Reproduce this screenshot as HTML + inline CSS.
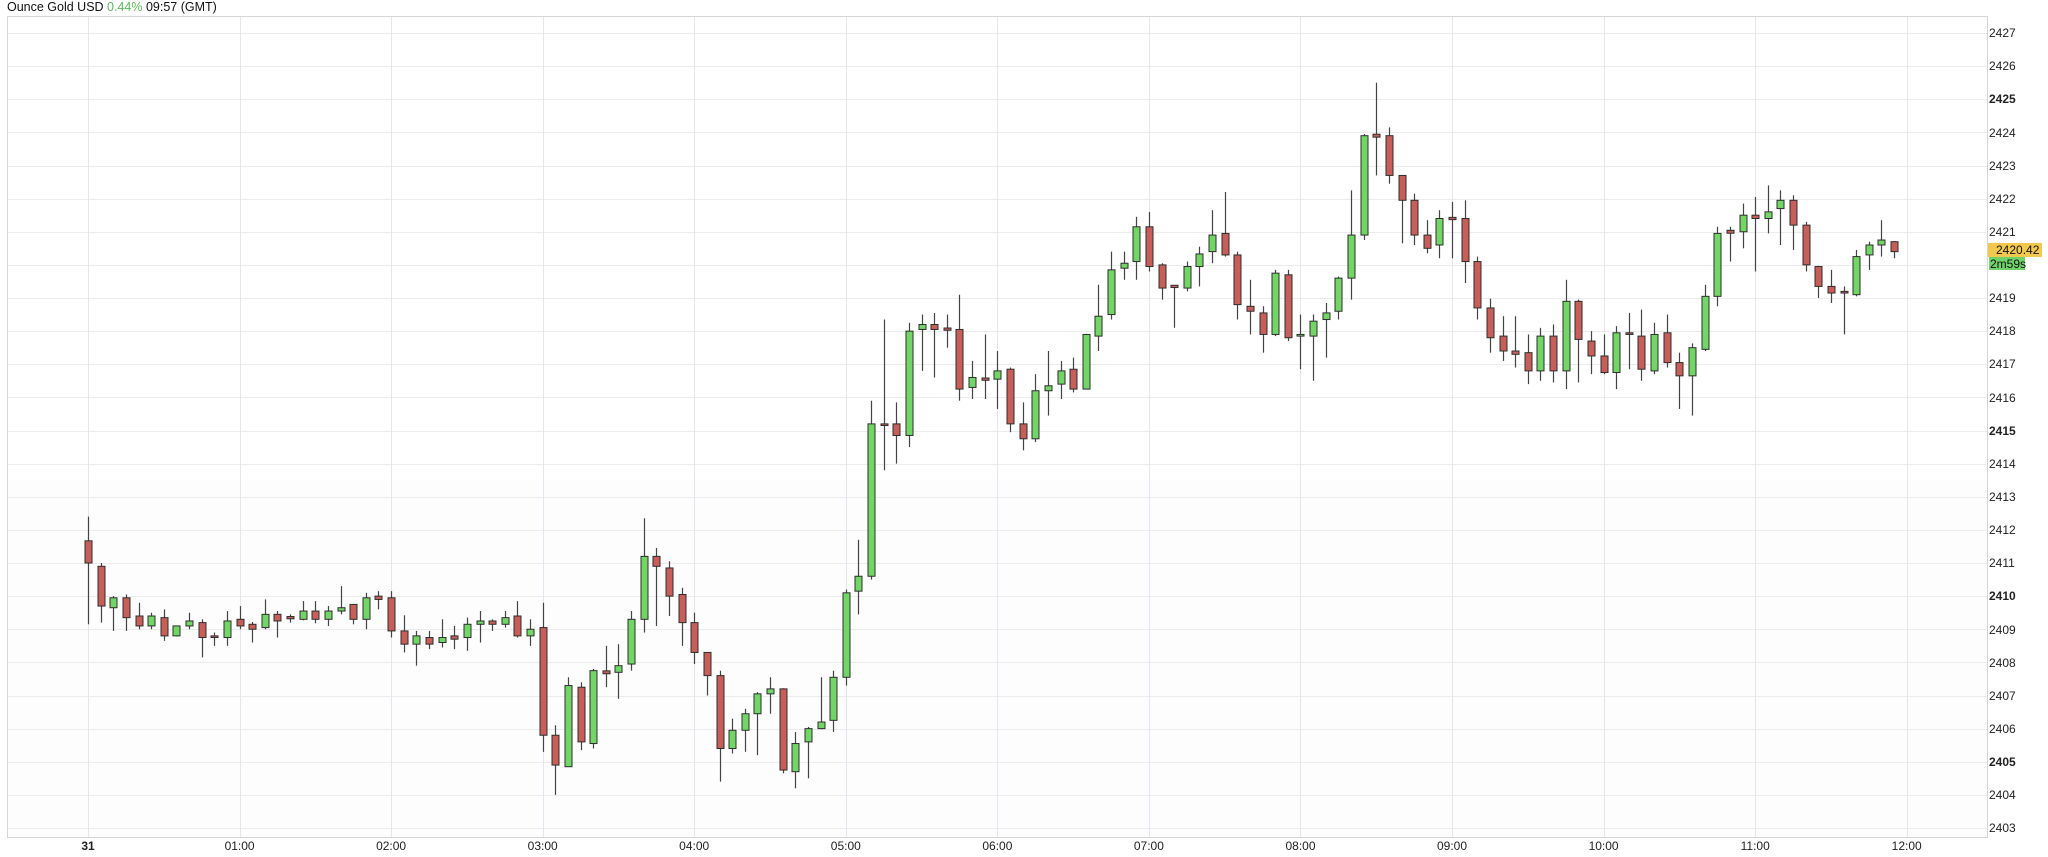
<!DOCTYPE html>
<html><head><meta charset="utf-8"><style>
html,body{margin:0;padding:0;background:#fff;}
body{width:2048px;height:852px;overflow:hidden;font-family:"Liberation Sans",Arial,sans-serif;}
svg text{font-family:"Liberation Sans",Arial,sans-serif;}
</style></head><body>
<svg id="s" width="2048" height="852" xmlns="http://www.w3.org/2000/svg">
<rect x="0" y="0" width="2048" height="852" fill="#fff"/>
<g id="grid"></g>
<rect x="7.5" y="16.5" width="1980" height="821" fill="none" stroke="#d6d6d6" stroke-width="1"/>
<g id="candles"></g>
<text x="7" y="11" font-size="12.5" fill="#111">Ounce Gold USD <tspan fill="#5cb85c">0.44%</tspan> 09:57 (GMT)</text>
<g font-size="12" fill="#222">
<text x="1989" y="37">2427</text>
<text x="1989" y="70">2426</text>
<text x="1989" y="103" font-weight="bold">2425</text>
<text x="1989" y="137">2424</text>
<text x="1989" y="170">2423</text>
<text x="1989" y="203">2422</text>
<text x="1989" y="236">2421</text>
<text x="1989" y="302">2419</text>
<text x="1989" y="335">2418</text>
<text x="1989" y="368">2417</text>
<text x="1989" y="402">2416</text>
<text x="1989" y="435" font-weight="bold">2415</text>
<text x="1989" y="468">2414</text>
<text x="1989" y="501">2413</text>
<text x="1989" y="534">2412</text>
<text x="1989" y="567">2411</text>
<text x="1989" y="600" font-weight="bold">2410</text>
<text x="1989" y="634">2409</text>
<text x="1989" y="667">2408</text>
<text x="1989" y="700">2407</text>
<text x="1989" y="733">2406</text>
<text x="1989" y="766" font-weight="bold">2405</text>
<text x="1989" y="799">2404</text>
<text x="1989" y="832">2403</text>
</g>
<rect x="1988" y="243" width="54" height="14" fill="#f2c94c"/>
<text x="1996" y="254" font-size="12" fill="#111">2420.42</text>
<rect x="1989" y="257" width="36" height="13" fill="#6fd36a"/>
<text x="1990" y="268" font-size="12" fill="#111">2m59s</text>
<g font-size="12" fill="#222" text-anchor="middle">
<text x="88" y="850" font-weight="bold">31</text>
<text x="239.6" y="850">01:00</text>
<text x="391.1" y="850">02:00</text>
<text x="542.7" y="850">03:00</text>
<text x="694.2" y="850">04:00</text>
<text x="845.8" y="850">05:00</text>
<text x="997.4" y="850">06:00</text>
<text x="1148.9" y="850">07:00</text>
<text x="1300.5" y="850">08:00</text>
<text x="1452" y="850">09:00</text>
<text x="1603.6" y="850">10:00</text>
<text x="1755.2" y="850">11:00</text>
<text x="1906.7" y="850">12:00</text>
</g>
</svg>
<script>
var D=[
[2411.67,2412.4,2409.15,2411.0],[2410.9,2411.0,2409.2,2409.7],[2409.65,2410.0,2408.95,2409.95],[2409.95,2410.05,2408.95,2409.35],
[2409.4,2409.8,2409.0,2409.1],[2409.1,2409.5,2409.0,2409.4],[2409.35,2409.6,2408.65,2408.8],[2408.8,2409.1,2408.78,2409.1],
[2409.1,2409.5,2409.0,2409.25],[2409.2,2409.3,2408.15,2408.75],[2408.8,2408.9,2408.5,2408.75],[2408.75,2409.55,2408.5,2409.25],
[2409.3,2409.7,2409.0,2409.1],[2409.15,2409.22,2408.6,2409.0],[2409.05,2409.9,2409.0,2409.45],[2409.45,2409.55,2408.75,2409.25],
[2409.36,2409.45,2409.2,2409.34],[2409.3,2409.85,2409.27,2409.55],[2409.55,2409.85,2409.18,2409.3],[2409.3,2409.7,2409.1,2409.55],
[2409.55,2410.3,2409.45,2409.65],[2409.75,2409.75,2409.15,2409.3],[2409.3,2410.1,2409.0,2409.95],[2410.0,2410.15,2409.6,2409.9],
[2409.95,2410.15,2408.75,2408.95],[2408.95,2409.42,2408.3,2408.55],[2408.55,2408.95,2407.9,2408.8],[2408.75,2408.95,2408.4,2408.55],
[2408.6,2409.3,2408.45,2408.75],[2408.8,2409.1,2408.4,2408.7],[2408.75,2409.35,2408.35,2409.15],[2409.15,2409.55,2408.6,2409.25],
[2409.25,2409.3,2408.95,2409.15],[2409.15,2409.55,2409.05,2409.35],[2409.4,2409.85,2408.75,2408.8],[2408.8,2409.3,2408.5,2409.0],
[2409.05,2409.8,2405.3,2405.8],[2405.8,2406.1,2404.0,2404.9],[2404.85,2407.55,2404.85,2407.3],[2407.25,2407.4,2405.35,2405.6],
[2405.55,2407.8,2405.4,2407.75],[2407.72,2408.5,2407.25,2407.68],[2407.7,2408.55,2406.9,2407.9],[2407.95,2409.55,2407.75,2409.3],
[2409.3,2412.35,2408.9,2411.2],[2411.2,2411.45,2409.1,2410.9],[2410.85,2411.05,2409.4,2410.0],[2410.05,2410.25,2408.5,2409.2],
[2409.2,2409.5,2407.95,2408.3],[2408.3,2408.3,2407.0,2407.6],[2407.6,2407.75,2404.4,2405.4],[2405.4,2406.3,2405.25,2405.95],
[2405.95,2406.6,2405.3,2406.45],[2406.45,2407.1,2405.2,2407.05],[2407.05,2407.55,2406.45,2407.2],[2407.2,2407.22,2404.65,2404.75],
[2404.7,2405.9,2404.2,2405.55],[2405.6,2406.05,2404.5,2406.0],[2406.0,2407.55,2405.98,2406.2],[2406.25,2407.75,2405.9,2407.55],
[2407.55,2410.2,2407.3,2410.1],[2410.15,2411.7,2409.45,2410.6],
[2410.6,2415.9,2410.5,2415.2],[2415.2,2418.35,2413.8,2415.15],[2415.2,2415.85,2414.0,2414.85],[2414.85,2418.25,2414.5,2418.0],
[2418.05,2418.5,2416.8,2418.2],[2418.2,2418.55,2416.6,2418.05],[2418.07,2418.5,2417.5,2418.05],[2418.05,2419.1,2415.9,2416.25],
[2416.3,2417.1,2415.95,2416.6],[2416.56,2417.9,2415.95,2416.54],[2416.55,2417.4,2415.65,2416.8],[2416.85,2416.9,2414.95,2415.2],
[2415.2,2415.85,2414.4,2414.75],[2414.75,2416.7,2414.65,2416.2],[2416.2,2417.4,2415.45,2416.35],[2416.4,2417.1,2415.95,2416.8],
[2416.85,2417.2,2416.15,2416.25],[2416.25,2417.92,2416.24,2417.9],[2417.85,2419.4,2417.4,2418.45],[2418.5,2420.4,2418.35,2419.85],
[2419.9,2420.4,2419.55,2420.05],[2420.1,2421.45,2419.55,2421.15],[2421.15,2421.6,2419.8,2419.95],[2420.0,2420.05,2418.95,2419.3],
[2419.36,2419.37,2418.1,2419.34],[2419.3,2420.1,2419.2,2419.95],
[2419.95,2420.55,2419.35,2420.33],[2420.4,2421.65,2420.05,2420.9],[2420.95,2422.2,2420.25,2420.3],[2420.3,2420.4,2418.35,2418.8],
[2418.75,2419.55,2417.9,2418.6],[2418.55,2418.75,2417.35,2417.9],[2417.9,2419.85,2417.85,2419.75],[2419.7,2419.85,2417.7,2417.8],
[2417.85,2418.5,2416.85,2417.9],[2417.85,2418.5,2416.5,2418.3],[2418.35,2418.85,2417.2,2418.55],[2418.6,2419.65,2418.35,2419.6],
[2419.6,2422.25,2418.95,2420.9],[2420.9,2423.95,2420.75,2423.9],[2423.92,2425.5,2422.7,2423.88],[2423.9,2424.15,2422.45,2422.7],
[2422.7,2422.7,2420.65,2421.95],[2421.95,2422.15,2420.6,2420.9],[2420.9,2421.35,2420.35,2420.5],[2420.6,2421.65,2420.2,2421.4],
[2421.41,2421.9,2420.2,2421.39],[2421.4,2421.95,2419.45,2420.1],[2420.1,2420.25,2418.35,2418.7],[2418.7,2418.98,2417.35,2417.8],
[2417.85,2418.45,2417.1,2417.4],[2417.4,2418.45,2416.9,2417.3],[2417.35,2417.9,2416.4,2416.8],
[2416.8,2418.1,2416.5,2417.85],[2417.85,2418.2,2416.45,2416.8],[2416.8,2419.55,2416.25,2418.9],[2418.9,2418.95,2416.45,2417.75],
[2417.7,2418.0,2416.7,2417.25],[2417.25,2417.9,2416.7,2416.75],[2416.75,2418.15,2416.25,2417.95],[2417.95,2418.55,2416.85,2417.9],
[2417.85,2418.65,2416.5,2416.85],[2416.8,2418.25,2416.7,2417.9],[2417.95,2418.5,2416.9,2417.05],[2417.05,2417.35,2415.65,2416.65],
[2416.65,2417.63,2415.45,2417.5],[2417.45,2419.4,2417.4,2419.05],[2419.05,2421.15,2418.75,2420.95],[2421.02,2421.15,2420.1,2420.98],
[2421.0,2421.85,2420.5,2421.5],[2421.5,2422.05,2419.8,2421.4],[2421.4,2422.4,2420.95,2421.6],[2421.7,2422.25,2420.6,2421.95],
[2421.95,2422.1,2420.45,2421.2],[2421.2,2421.3,2419.8,2420.0],[2419.95,2419.97,2419.0,2419.35],[2419.35,2419.85,2418.85,2419.15],
[2419.2,2419.35,2417.9,2419.15],[2419.1,2420.45,2419.05,2420.25],[2420.3,2420.7,2419.85,2420.6],[2420.6,2421.35,2420.25,2420.75],
[2420.7,2420.72,2420.2,2420.4]
];
var NS="http://www.w3.org/2000/svg";
function Y(p){return 33+(2427-p)*33.125;}
function X(i){return 88+i*12.63;}
function el(n,a,par){var e=document.createElementNS(NS,n);for(var k in a)e.setAttribute(k,a[k]);par.appendChild(e);return e;}
var g=document.getElementById('grid'),c=document.getElementById('candles');
el('rect',{x:8,y:480,width:1979,height:357,fill:'#fdfdfd'},g);
for(var p=2403;p<=2427;p++){var y=Math.round(Y(p))+0.5;el('line',{x1:8,x2:1987,y1:y,y2:y,stroke:'#ececec','stroke-width':1},g);}
for(var h=0;h<=12;h++){var x=Math.round(88+h*151.56)+0.5;el('line',{x1:x,x2:x,y1:17,y2:837,stroke:'#e6e4ef','stroke-width':1},g);}
for(var i=0;i<D.length;i++){var d=D[i],o=d[0],hi=d[1],lo=d[2],cl=d[3];var x=Math.round(X(i))+0.5;
el('line',{x1:x,x2:x,y1:Y(hi),y2:Y(lo),stroke:'#444','stroke-width':1.2},c);
var t=Math.min(Y(o),Y(cl)),b=Math.max(Y(o),Y(cl));if(b-t<1.5){t-=0.8;b+=0.8;}
el('rect',{x:x-3.5,y:t,width:7,height:b-t,fill:cl>=o?'#72d666':'#c75f58',stroke:'#2e2e2e','stroke-width':1},c);}
</script>
</body></html>
